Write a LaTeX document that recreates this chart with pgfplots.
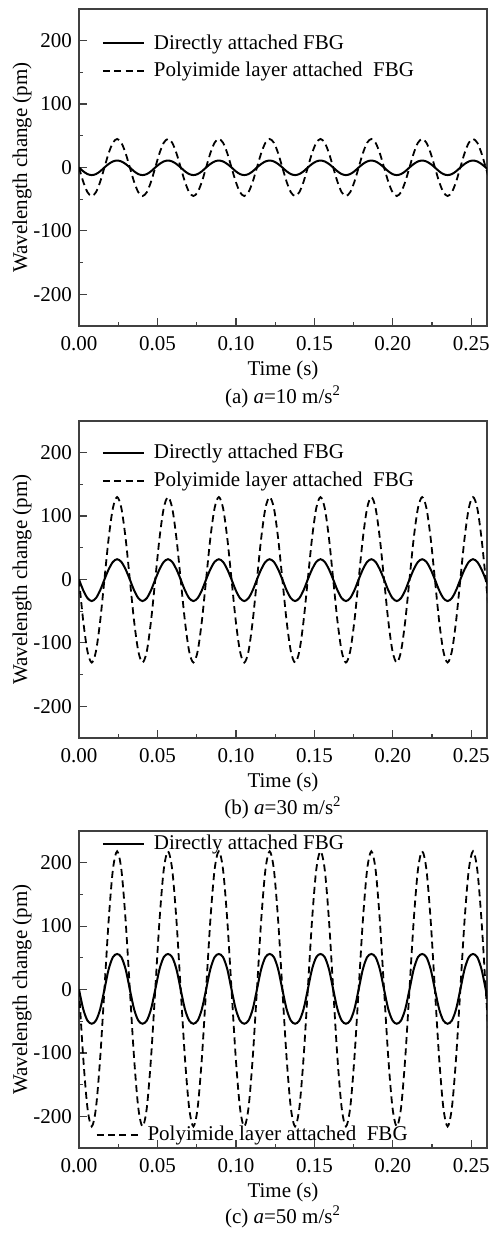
\documentclass[border=0pt]{standalone}
\usepackage{fontspec}
\setmainfont{Liberation Serif}
\usepackage{pgfplots}
\pgfplotsset{compat=1.18}
\usepackage{pgfplotstable}

% t, then (direct, polyimide) for a=10, 30, 50 m/s^2
\pgfplotstableread{
t a1 a2 b1 b2 c1 c2
0.0000 0 0 0 0 0 0
0.0027 -6 -22.5 -17 -65.5 -31 -108
0.0054 -10.4 -39 -29.4 -113.4 -49 -187
0.0081 -12 -45 -34 -131 -54 -216
0.0108 -10.4 -39 -29.4 -113.4 -49 -187
0.0135 -6 -22.5 -17 -65.5 -31 -108
0.0162 0 0 0 0 0 0
0.0189 5.5 22.5 16 65 32 109
0.0216 9.5 39 27.7 112.6 51 189
0.0243 11 45 32 130 56 218
0.0270 9.5 39 27.7 112.6 51 189
0.0297 5.5 22.5 16 65 32 109
0.0324 0 0 0 0 0 0
0.0351 -6 -22.5 -17 -65.5 -31 -108
0.0378 -10.4 -39 -29.4 -113.4 -49 -187
0.0405 -12 -45 -34 -131 -54 -216
0.0432 -10.4 -39 -29.4 -113.4 -49 -187
0.0459 -6 -22.5 -17 -65.5 -31 -108
0.0486 0 0 0 0 0 0
0.0513 5.5 22.5 16 65 32 109
0.0540 9.5 39 27.7 112.6 51 189
0.0567 11 45 32 130 56 218
0.0594 9.5 39 27.7 112.6 51 189
0.0621 5.5 22.5 16 65 32 109
0.0648 0 0 0 0 0 0
0.0675 -6 -22.5 -17 -65.5 -31 -108
0.0702 -10.4 -39 -29.4 -113.4 -49 -187
0.0729 -12 -45 -34 -131 -54 -216
0.0756 -10.4 -39 -29.4 -113.4 -49 -187
0.0783 -6 -22.5 -17 -65.5 -31 -108
0.0810 0 0 0 0 0 0
0.0837 5.5 22.5 16 65 32 109
0.0864 9.5 39 27.7 112.6 51 189
0.0891 11 45 32 130 56 218
0.0918 9.5 39 27.7 112.6 51 189
0.0945 5.5 22.5 16 65 32 109
0.0972 0 0 0 0 0 0
0.0999 -6 -22.5 -17 -65.5 -31 -108
0.1026 -10.4 -39 -29.4 -113.4 -49 -187
0.1053 -12 -45 -34 -131 -54 -216
0.1080 -10.4 -39 -29.4 -113.4 -49 -187
0.1107 -6 -22.5 -17 -65.5 -31 -108
0.1134 0 0 0 0 0 0
0.1161 5.5 22.5 16 65 32 109
0.1188 9.5 39 27.7 112.6 51 189
0.1215 11 45 32 130 56 218
0.1242 9.5 39 27.7 112.6 51 189
0.1269 5.5 22.5 16 65 32 109
0.1296 0 0 0 0 0 0
0.1323 -6 -22.5 -17 -65.5 -31 -108
0.1350 -10.4 -39 -29.4 -113.4 -49 -187
0.1377 -12 -45 -34 -131 -54 -216
0.1404 -10.4 -39 -29.4 -113.4 -49 -187
0.1431 -6 -22.5 -17 -65.5 -31 -108
0.1458 0 0 0 0 0 0
0.1485 5.5 22.5 16 65 32 109
0.1512 9.5 39 27.7 112.6 51 189
0.1539 11 45 32 130 56 218
0.1566 9.5 39 27.7 112.6 51 189
0.1593 5.5 22.5 16 65 32 109
0.1620 0 0 0 0 0 0
0.1647 -6 -22.5 -17 -65.5 -31 -108
0.1674 -10.4 -39 -29.4 -113.4 -49 -187
0.1701 -12 -45 -34 -131 -54 -216
0.1728 -10.4 -39 -29.4 -113.4 -49 -187
0.1755 -6 -22.5 -17 -65.5 -31 -108
0.1782 0 0 0 0 0 0
0.1809 5.5 22.5 16 65 32 109
0.1836 9.5 39 27.7 112.6 51 189
0.1863 11 45 32 130 56 218
0.1890 9.5 39 27.7 112.6 51 189
0.1917 5.5 22.5 16 65 32 109
0.1944 0 0 0 0 0 0
0.1971 -6 -22.5 -17 -65.5 -31 -108
0.1998 -10.4 -39 -29.4 -113.4 -49 -187
0.2025 -12 -45 -34 -131 -54 -216
0.2052 -10.4 -39 -29.4 -113.4 -49 -187
0.2079 -6 -22.5 -17 -65.5 -31 -108
0.2106 0 0 0 0 0 0
0.2133 5.5 22.5 16 65 32 109
0.2160 9.5 39 27.7 112.6 51 189
0.2187 11 45 32 130 56 218
0.2214 9.5 39 27.7 112.6 51 189
0.2241 5.5 22.5 16 65 32 109
0.2268 0 0 0 0 0 0
0.2295 -6 -22.5 -17 -65.5 -31 -108
0.2322 -10.4 -39 -29.4 -113.4 -49 -187
0.2349 -12 -45 -34 -131 -54 -216
0.2376 -10.4 -39 -29.4 -113.4 -49 -187
0.2403 -6 -22.5 -17 -65.5 -31 -108
0.2430 0 0 0 0 0 0
0.2457 5.5 22.5 16 65 32 109
0.2484 9.5 39 27.7 112.6 51 189
0.2511 11 45 32 130 56 218
0.2538 9.5 39 27.7 112.6 51 189
0.2565 5.5 22.5 16 65 32 109
0.2592 0 0 0 0 0 0
0.2619 -6 -22.5 -17 -65.5 -31 -108
}\fbgdata

\pgfplotsset{
  panel/.style={
    scale only axis,
    width=204pt, height=158.5pt,
    anchor=north west,
    font=\fontsize{10.5pt}{12.5pt}\selectfont,
    xmin=0, xmax=0.26, ymin=-250, ymax=250,
    xtick={0,0.05,0.1,0.15,0.2,0.25},
    ytick={-200,-100,0,100,200},
    minor x tick num=1, minor y tick num=1,
    xtick pos=bottom, ytick pos=left,
    tick align=inside,
    major tick length=4pt, minor tick length=2pt,
    tick style={black!75, line width=0.6pt},
    axis line style={black!75, line width=0.7pt},
    /pgf/number format/assume math mode=true,
    xticklabel style={yshift=-1.5pt, /pgf/number format/.cd, fixed, fixed zerofill, precision=2},
    xlabel={Time (s)},
    ylabel={Wavelength change (pm)},
    xlabel style={at={(axis description cs:0.5,0)}, anchor=center, yshift=-22pt},
    ylabel style={at={(axis description cs:0,0.5)}, anchor=center, yshift=28.5pt},
    legend cell align=left,
    legend style={draw=none, fill=none, inner sep=0pt, row sep=1pt, column sep=2.5pt,
      nodes={inner sep=2pt}, font=\fontsize{10.5pt}{12.5pt}\selectfont},
    legend image code/.code={\draw[#1] (0pt,0pt) -- (20.5pt,0pt);},
  },
  direct/.style={black, line width=1pt, smooth},
  poly/.style={black, line width=0.9pt, smooth, dash pattern=on 3.5pt off 2.2pt},
}

\begin{document}
\begin{tikzpicture}[font=\fontsize{10.5pt}{12.5pt}\selectfont]
\path[use as bounding box] (0,0) rectangle (244.5pt,-617pt);

% (a)
\begin{axis}[panel, at={(39.5pt,-4.5pt)},
  legend style={at={(axis description cs:0.055,0.933)}, anchor=north west}]
\addplot[direct] table[x=t, y=a1] {\fbgdata};
\addlegendentry{Directly attached FBG}
\addplot[poly] table[x=t, y=a2] {\fbgdata};
\addlegendentry{Polyimide layer attached\ \ FBG}
\end{axis}
\node[anchor=center] at (141.5pt,-198.5pt) {(a) \textit{a}=10 m/s\textsuperscript{2}};

% (b)
\begin{axis}[panel, at={(39.5pt,-210.5pt)},
  legend style={at={(axis description cs:0.055,0.94)}, anchor=north west}]
\addplot[direct] table[x=t, y=b1] {\fbgdata};
\addlegendentry{Directly attached FBG}
\addplot[poly] table[x=t, y=b2] {\fbgdata};
\addlegendentry{Polyimide layer attached\ \ FBG}
\end{axis}
\node[anchor=center] at (141.5pt,-404pt) {(b) \textit{a}=30 m/s\textsuperscript{2}};

% (c)
\begin{axis}[panel, at={(39.5pt,-415.5pt)},
  legend style={at={(axis description cs:0.055,1.0)}, anchor=north west}]
\addplot[direct] table[x=t, y=c1] {\fbgdata};
\addlegendentry{Directly attached FBG}
\end{axis}
\begin{axis}[panel, at={(39.5pt,-415.5pt)}, hide axis,
  legend style={at={(axis description cs:0.04,0.0)}, anchor=south west}]
\addplot[poly] table[x=t, y=c2] {\fbgdata};
\addlegendentry{Polyimide layer attached\ \ FBG}
\end{axis}
\node[anchor=center] at (141.5pt,-608.5pt) {(c) \textit{a}=50 m/s\textsuperscript{2}};
\end{tikzpicture}
\end{document}
